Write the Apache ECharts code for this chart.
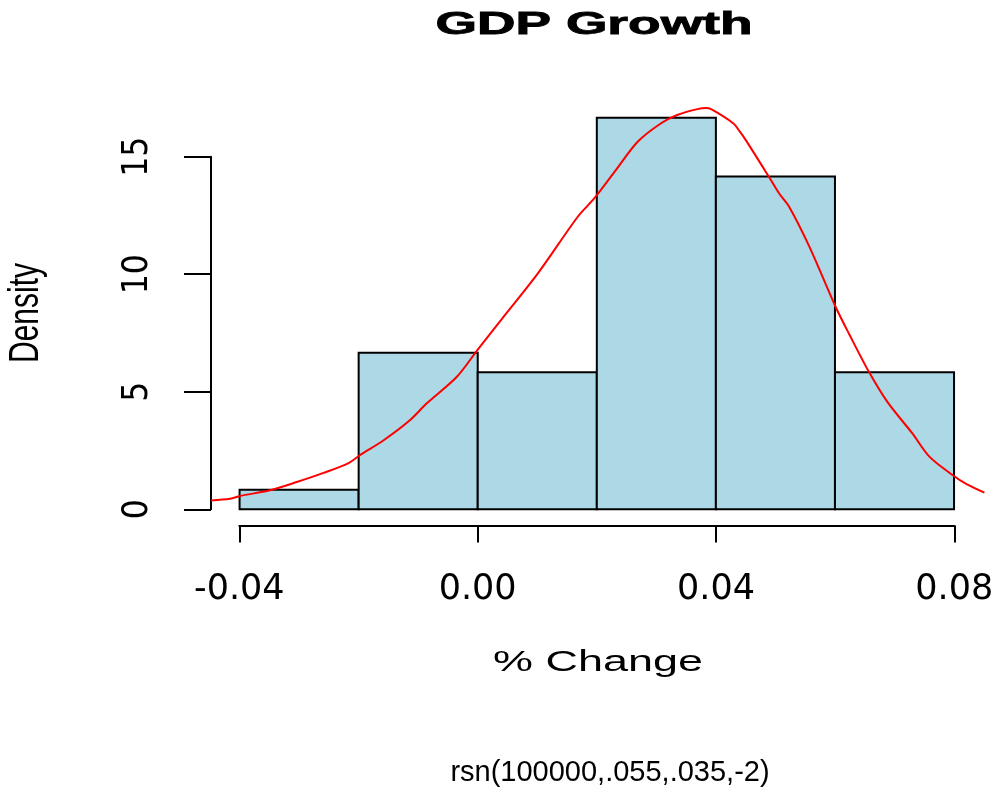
<!DOCTYPE html>
<html>
<head>
<meta charset="utf-8">
<script src="https://cdn.jsdelivr.net/npm/echarts@6/dist/echarts.min.js"></script>
<style>
  html, body { margin: 0; padding: 0; background: #ffffff; }
  #chart { width: 1000px; height: 793px; }
</style>
</head>
<body>
<div id="chart"></div>
<script>
// ---- data ----
const binEdges = [-0.04, -0.02, 0.00, 0.02, 0.04, 0.06, 0.08];
const binDensity = [0.833, 6.667, 5.833, 16.667, 14.167, 5.833];

const curveX = [-0.0448, -0.0416, -0.0399, -0.0349, -0.0304, -0.0259, -0.0217, -0.0198, -0.0158, -0.0114, -0.0086, -0.0035,
  0.0000, 0.0039, 0.0101, 0.0168, 0.0196, 0.0230, 0.0269, 0.0308, 0.0336, 0.0369, 0.0383, 0.0392, 0.0429, 0.0440, 0.0450,
  0.0489, 0.0506, 0.0523, 0.0557, 0.0601, 0.0624, 0.0657, 0.0688, 0.0730, 0.0759, 0.0798, 0.0821, 0.0851];
const curveY = [0.38, 0.45, 0.57, 0.81, 1.16, 1.55, 1.97, 2.30, 2.94, 3.79, 4.50, 5.64,
  6.80, 8.05, 10.04, 12.45, 13.24, 14.37, 15.65, 16.43, 16.79, 17.03, 17.08, 17.03, 16.43, 16.08, 15.72,
  14.15, 13.45, 12.88, 11.18, 8.62, 7.45, 5.85, 4.57, 3.23, 2.23, 1.45, 1.07, 0.71];

const xTickValues = [-0.04, 0.00, 0.04, 0.08];
const yTickValues = [0, 5, 10, 15];

const titleText = 'GDP Growth';
const xName = '% Change';
const yName = 'Density';
const subText = 'rsn(100000,.055,.035,-2)';

// ---- build ----
const barData = binDensity.map((d, i) => [binEdges[i], binEdges[i + 1], d]);
const curveData = curveX.map((x, i) => [x, curveY[i]]);

const chart = echarts.init(document.getElementById('chart'), null, { renderer: 'canvas' });

const narrowFont = '"Liberation Sans Narrow", "DejaVu Sans Condensed", "Liberation Sans", sans-serif';

const option = {
  backgroundColor: '#ffffff',
  animation: false,
  grid: [
    { left: 211, top: 102, width: 774, height: 423 },          // data region
    { left: 239.3, top: 102, width: 715, height: 423.5 },      // x axis display
    { left: 211, top: 156.7, width: 774, height: 352.6 }       // y axis display
  ],
  xAxis: [
    { gridIndex: 0, type: 'value', min: -0.0448, max: 0.0852, show: false },
    {
      gridIndex: 1, type: 'value', min: xTickValues[0], max: xTickValues[xTickValues.length - 1], interval: 0.04,
      axisLine: { show: true, onZero: false, lineStyle: { color: '#000', width: 2 } },
      axisTick: { show: true, length: 17, lineStyle: { color: '#000', width: 2 } },
      axisLabel: {
        show: true, margin: 47, color: '#000', fontFamily: 'DejaVu Sans', fontSize: 35,
        formatter: v => v.toFixed(2), showMinLabel: true, showMaxLabel: true
      },
      splitLine: { show: false }
    },
    { gridIndex: 2, type: 'value', min: 0, max: 1, show: false }
  ],
  yAxis: [
    {
      gridIndex: 0, type: 'value', min: -0.667, max: 17.333, show: false
    },
    { gridIndex: 1, type: 'value', min: 0, max: 1, show: false },
    {
      gridIndex: 2, type: 'value', min: yTickValues[0], max: yTickValues[yTickValues.length - 1], interval: 5,
      axisLine: { show: true, onZero: false, lineStyle: { color: '#000', width: 2 } },
      axisTick: { show: true, length: 27, lineStyle: { color: '#000', width: 2 } },
      axisLabel: {
        show: true, rotate: 90, margin: 56, color: '#000',
        fontFamily: narrowFont, fontSize: 35,
        showMinLabel: true, showMaxLabel: true
      },
      splitLine: { show: false }
    }
  ],
  series: [
    {
      type: 'custom', xAxisIndex: 0, yAxisIndex: 0, z: 2,
      data: barData,
      encode: { x: [0, 1], y: 2 },
      renderItem: function (params, api) {
        const p0 = api.coord([api.value(0), 0]);
        const p1 = api.coord([api.value(1), api.value(2)]);
        return {
          type: 'rect',
          shape: { x: p0[0], y: p1[1], width: p1[0] - p0[0], height: p0[1] - p1[1] },
          style: { fill: '#ADD8E6', stroke: '#000', lineWidth: 2 }
        };
      }
    },
    {
      type: 'line', xAxisIndex: 0, yAxisIndex: 0, z: 3,
      data: curveData, smooth: 0.3, showSymbol: false, symbol: 'none',
      lineStyle: { color: '#ff0000', width: 2 }, clip: true
    }
  ],
  graphic: [
    {
      type: 'text', x: 594, y: 25, scaleX: 1.72, scaleY: 1,
      style: { text: titleText, font: 'bold 31px "Liberation Sans", Arial, sans-serif', fill: '#000',
        stroke: '#000', lineWidth: 0.8, align: 'center', verticalAlign: 'middle' }
    },
    {
      type: 'text', x: 26, y: 313, rotation: Math.PI / 2, scaleX: 1.0, scaleY: 1.42,
      style: { text: yName, font: '30px "Liberation Sans", Arial, sans-serif', fill: '#000', align: 'center', verticalAlign: 'middle' }
    },
    {
      type: 'text', x: 598, y: 663, scaleX: 1.55, scaleY: 1,
      style: { text: xName, font: '29px "Liberation Sans", Arial, sans-serif', fill: '#000', align: 'center', verticalAlign: 'middle' }
    },
    {
      type: 'text', x: 610, y: 773,
      style: { text: subText, font: '29px "Liberation Sans", Arial, sans-serif', fill: '#000', align: 'center', verticalAlign: 'middle' }
    }
  ]
};
chart.setOption(option);
</script>
</body>
</html>
